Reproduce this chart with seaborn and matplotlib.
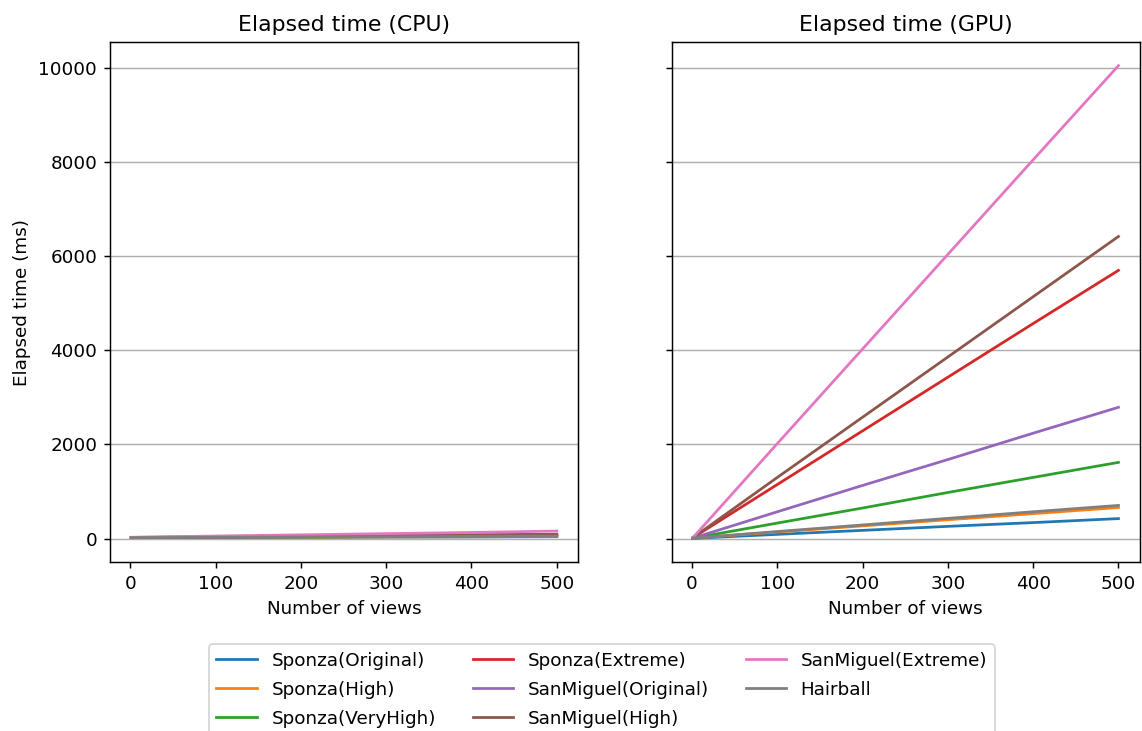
import matplotlib
matplotlib.use("Agg")
import matplotlib.pyplot as plt
import seaborn as sns
import pandas as pd

views = [1, 100, 200, 300, 400, 500]

scenes = [
    "Sponza(Original)", "Sponza(High)", "Sponza(VeryHigh)", "Sponza(Extreme)",
    "SanMiguel(Original)", "SanMiguel(High)", "SanMiguel(Extreme)", "Hairball",
]

cpu_sponza_original = [20, 25, 28, 32, 35, 40]
cpu_sponza_high = [20, 25, 30, 35, 40, 45]
cpu_sponza_veryhigh = [20, 28, 35, 42, 50, 55]
cpu_sponza_extreme = [22, 35, 48, 60, 72, 85]
cpu_sanmiguel_original = [22, 30, 40, 48, 56, 65]
cpu_sanmiguel_high = [25, 40, 55, 65, 80, 92]
cpu_sanmiguel_extreme = [28, 55, 80, 105, 130, 160]
cpu_hairball = [20, 28, 35, 42, 48, 55]

gpu_sponza_original = [5, 90, 175, 260, 340, 425]
gpu_sponza_high = [10, 140, 270, 400, 530, 660]
gpu_sponza_veryhigh = [10, 330, 650, 980, 1300, 1620]
gpu_sponza_extreme = [20, 1150, 2290, 3430, 4570, 5700]
gpu_sanmiguel_original = [10, 570, 1130, 1680, 2240, 2790]
gpu_sanmiguel_high = [20, 1300, 2580, 3860, 5140, 6420]
gpu_sanmiguel_extreme = [20, 2020, 4030, 6040, 8050, 10050]
gpu_hairball = [10, 150, 290, 430, 570, 705]

cpu_series = [cpu_sponza_original, cpu_sponza_high, cpu_sponza_veryhigh,
              cpu_sponza_extreme, cpu_sanmiguel_original, cpu_sanmiguel_high,
              cpu_sanmiguel_extreme, cpu_hairball]
gpu_series = [gpu_sponza_original, gpu_sponza_high, gpu_sponza_veryhigh,
              gpu_sponza_extreme, gpu_sanmiguel_original, gpu_sanmiguel_high,
              gpu_sanmiguel_extreme, gpu_hairball]


def to_frame(series):
    rows = []
    for name, vals in zip(scenes, series):
        for v, t in zip(views, vals):
            rows.append({"views": v, "time": t, "scene": name})
    return pd.DataFrame(rows)


cpu_df = to_frame(cpu_series)
gpu_df = to_frame(gpu_series)

palette = sns.color_palette("tab10", len(scenes))

dpi = 132
fig, (ax1, ax2) = plt.subplots(1, 2, sharey=True,
                               figsize=(1142 / dpi, 731 / dpi), dpi=dpi)
fig.subplots_adjust(left=0.0963, right=0.998, top=0.9425, bottom=0.2312,
                    wspace=0.2)

for ax, df, title in [(ax1, cpu_df, "Elapsed time (CPU)"),
                      (ax2, gpu_df, "Elapsed time (GPU)")]:
    sns.lineplot(data=df, x="views", y="time", hue="scene",
                 hue_order=scenes, palette=palette, ax=ax, legend=False,
                 linewidth=1.5)
    ax.set_title(title, fontsize=12)
    ax.set_xlabel("Number of views")
    ax.set_ylabel("")
    ax.grid(axis="y")
    ax.set_axisbelow(True)
    ax.set_xticks([0, 100, 200, 300, 400, 500])

ax1.set_ylabel("Elapsed time (ms)")
ax1.set_yticks([0, 2000, 4000, 6000, 8000, 10000])
ax2.tick_params(axis="y", labelleft=False)

handles = [plt.Line2D([], [], color=c, linewidth=1.5) for c in palette]
fig.legend(handles, scenes, loc="upper center", ncol=3,
           bbox_to_anchor=(0.527, 0.131), labelspacing=0.6,
           handlelength=2.2)

fig.savefig("out.png", dpi=dpi)
